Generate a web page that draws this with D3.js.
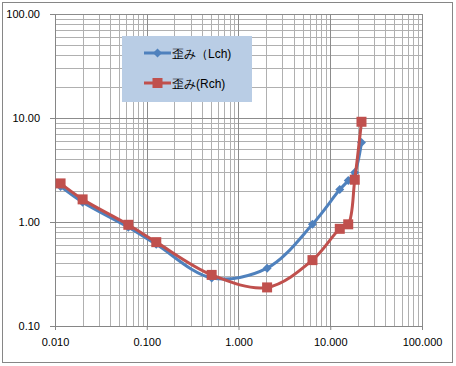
<!DOCTYPE html>
<html>
<head>
<meta charset="utf-8">
<script src="https://cdn.jsdelivr.net/npm/d3@7"></script>
<style>
  body { margin: 0; background: #fff; }
  text { font-family: "Liberation Sans", Arial, sans-serif; }
</style>
</head>
<body>
<div id="chart"></div>
<script>
// frequencies (x) and distortion values for each channel
const xValues = [0.0115, 0.02, 0.063, 0.127, 0.51, 2.05, 6.4, 12.7, 15.7, 18.5, 21.9];
const lchValues = [2.2, 1.55, 0.89, 0.61, 0.29, 0.36, 0.95, 2.05, 2.5, 3.0, 5.8];
const rchValues = [2.35, 1.65, 0.94, 0.64, 0.31, 0.235, 0.43, 0.86, 0.95, 2.55, 9.2];
const seriesNames = ["歪み（Lch)", "歪み(Rch)"];
const xTicks = [0.01, 0.1, 1, 10, 100];
const yTicks = [0.1, 1, 10, 100];

const width = 456, height = 366;
const plot = { left: 55, right: 422, top: 14, bottom: 326 };

const svg = d3.select("#chart").append("svg")
  .attr("width", width)
  .attr("height", height);

// outer chart border
svg.append("rect")
  .attr("x", 2.5).attr("y", 2.5)
  .attr("width", 450).attr("height", 360)
  .attr("fill", "#fff")
  .attr("stroke", "#868686");

const x = d3.scaleLog().domain([0.01, 100]).range([plot.left, plot.right]);
const y = d3.scaleLog().domain([0.1, 100]).range([plot.bottom, plot.top]);

const crisp = v => Math.round(v) + 0.5;

// gridlines: 1..9 in every decade
const minorX = [];
for (let e = -2; e < 2; e++) for (let m = 2; m <= 9; m++) minorX.push(m * Math.pow(10, e));
const minorY = [];
for (let e = -1; e < 2; e++) for (let m = 2; m <= 9; m++) minorY.push(m * Math.pow(10, e));

const grid = svg.append("g");
grid.selectAll(".vx").data(minorX).join("line")
  .attr("x1", d => crisp(x(d))).attr("x2", d => crisp(x(d)))
  .attr("y1", plot.top).attr("y2", plot.bottom)
  .attr("stroke", "#b0b0b0");
grid.selectAll(".hy").data(minorY).join("line")
  .attr("y1", d => crisp(y(d))).attr("y2", d => crisp(y(d)))
  .attr("x1", plot.left).attr("x2", plot.right)
  .attr("stroke", "#b0b0b0");
grid.selectAll(".vmaj").data(xTicks.slice(1)).join("line")
  .attr("x1", d => crisp(x(d))).attr("x2", d => crisp(x(d)))
  .attr("y1", plot.top).attr("y2", plot.bottom)
  .attr("stroke", "#8c8c8c");
grid.selectAll(".hmaj").data(yTicks.slice(1)).join("line")
  .attr("y1", d => crisp(y(d))).attr("y2", d => crisp(y(d)))
  .attr("x1", plot.left).attr("x2", plot.right)
  .attr("stroke", "#8c8c8c");

// Axes
const xAxis = svg.append("g")
  .attr("transform", `translate(0,${crisp(plot.bottom) - 0.5})`)
  .call(d3.axisBottom(x).tickValues(xTicks).tickFormat(d3.format(".3f")).tickSize(4).tickPadding(8));
const yAxis = svg.append("g")
  .attr("transform", `translate(${crisp(plot.left) - 0.5},0)`)
  .call(d3.axisLeft(y).tickValues(yTicks).tickFormat(d3.format(".2f")).tickSize(5).tickPadding(10));

[xAxis, yAxis].forEach(a => {
  a.select(".domain").attr("stroke", "#868686");
  a.selectAll(".tick line").attr("stroke", "#868686");
  a.selectAll("text").attr("font-size", 11).attr("fill", "#000")
    .attr("font-family", "'Liberation Sans', Arial, sans-serif");
});

// Lines
const line = d3.line()
  .x(d => x(d[0]))
  .y(d => y(d[1]))
  .curve(d3.curveCatmullRom.alpha(0.5));

const series = [
  { name: seriesNames[0], values: lchValues, color: "#4f81bd", marker: "diamond" },
  { name: seriesNames[1], values: rchValues, color: "#c0504d", marker: "square" }
];

function drawMarker(g, type, color) {
  if (type === "diamond") {
    g.append("path").attr("d", "M0,-4.5L4.5,0L0,4.5L-4.5,0Z").attr("fill", color);
  } else {
    g.append("rect").attr("x", -5).attr("y", -5).attr("width", 10).attr("height", 10).attr("fill", color);
  }
}

series.forEach(s => {
  const pts = xValues.map((v, i) => [v, s.values[i]]);
  svg.append("path")
    .datum(pts)
    .attr("fill", "none")
    .attr("stroke", s.color)
    .attr("stroke-width", 3)
    .attr("d", line);
  pts.forEach(p => {
    const g = svg.append("g").attr("transform", `translate(${x(p[0])},${y(p[1])})`);
    drawMarker(g, s.marker, s.color);
  });
});

// Legend
const legend = svg.append("g");
legend.append("rect")
  .attr("x", 122).attr("y", 36)
  .attr("width", 130).attr("height", 66)
  .attr("fill", "#b9cde5");
series.forEach((s, i) => {
  const cy = 53 + i * 30;
  legend.append("line")
    .attr("x1", 144).attr("x2", 171)
    .attr("y1", cy).attr("y2", cy)
    .attr("stroke", s.color).attr("stroke-width", 3);
  const g = legend.append("g").attr("transform", `translate(157.5,${cy})`);
  drawMarker(g, s.marker, s.color);
  legend.append("text")
    .attr("x", 172).attr("y", cy + 4.5)
    .attr("font-size", 12)
    .attr("font-family", "'Noto Sans CJK JP', sans-serif")
    .attr("fill", "#000")
    .text(s.name);
});
</script>
</body>
</html>
